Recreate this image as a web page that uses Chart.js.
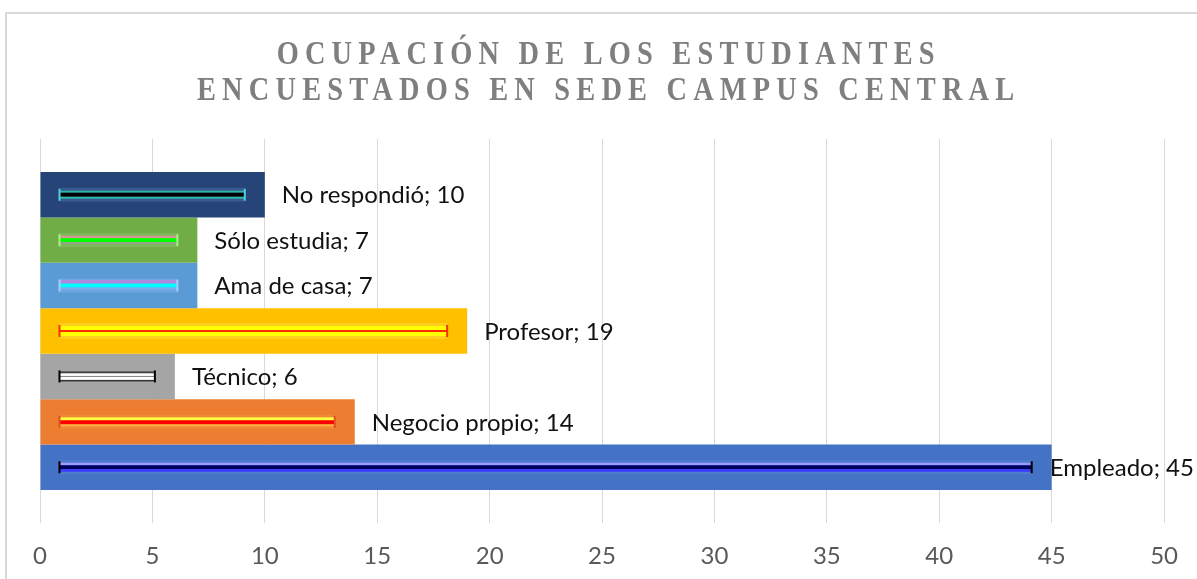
<!DOCTYPE html>
<html>
<head>
<meta charset="utf-8">
<script src="https://cdn.jsdelivr.net/npm/chart.js@4.4.1/dist/chart.umd.min.js"></script>
<style>
  body { margin: 0; background: #fff; overflow: hidden; }
  #frame { position: absolute; left: 5px; top: 12px; width: 1300px; height: 700px; border: 2px solid #d9d9d9; }
  #wrap { position: absolute; left: 0; top: 0; width: 1197px; height: 579px; }
  #titulo {
    position: absolute; left: 5px; width: 1200px; top: 35px; text-align: center;
    font-family: "Liberation Serif", serif; font-weight: bold; font-size: 33px; line-height: 36px;
    color: #7f7f7f; letter-spacing: 7.2px; padding-left: 7px; box-sizing: border-box;
    transform: scaleX(0.86); transform-origin: 605px 0;
  }
</style>
</head>
<body>
<div id="frame"></div>
<div id="wrap"><canvas id="myChart" width="1197" height="579"></canvas></div>
<div id="titulo">OCUPACIÓN DE LOS ESTUDIANTES<br>ENCUESTADOS EN SEDE CAMPUS CENTRAL</div>
<script>
const categorias = ['No respondió', 'Sólo estudia', 'Ama de casa', 'Profesor', 'Técnico', 'Negocio propio', 'Empleado'];
const valores = [10, 7, 7, 19, 6, 14, 45];
const ticksX = [0, 5, 10, 15, 20, 25, 30, 35, 40, 45, 50];

const colores = ['#264478', '#70ad47', '#5b9bd5', '#ffc000', '#a5a5a5', '#ed7d31', '#4472c4'];
// franjas decorativas de cada barra: [desde centro, alto, color]
const franjas = [
  [[-7, 14, 'rgba(90,130,190,0.35)'], [-4, 2, '#2fb8a8'], [-2, 4, '#000000'], [2, 2, '#2fb8a8']],
  [[-7, 14, 'rgba(150,200,120,0.4)'], [-4.5, 2.5, '#d09a90'], [-2, 4, '#00ff00'], [2, 2, '#9aa08a']],
  [[-7, 14, 'rgba(140,180,230,0.4)'], [-5.5, 3.5, '#b08ae0'], [-2, 4, '#00ffff'], [2, 2, '#7fb0f0']],
  [[-8, 16, 'rgba(255,220,60,0.5)'], [-5, 10, '#ffff00'], [-1, 2, '#ff2a00']],
  [[-5, 2, '#404040'], [-3, 6.5, '#ffffff'], [-0.5, 1, '#808080'], [3.5, 1.5, '#303030']],
  [[-7, 14, 'rgba(240,150,60,0.5)'], [-4.5, 3, '#ffff40'], [-1.5, 4, '#ff0000'], [2.5, 2, '#ffb040']],
  [[-7, 14, 'rgba(100,140,220,0.4)'], [-4.5, 2.5, '#9a9aff'], [-2, 4, '#000060'], [2, 2.5, '#3a3aff']]
];
const remates = ['#4fd0e0', '#a8f08a', '#a0d0ff', '#ff3000', '#000000', '#e05020', '#000000'];

const decoracion = {
  id: 'decoracion',
  afterDatasetsDraw(chart) {
    const ctx = chart.ctx;
    ctx.save();
    chart.data.datasets.forEach((ds, i) => {
      const bar = chart.getDatasetMeta(i).data[0];
      const p = bar.getProps(['x', 'y', 'base']);
      const x0 = p.base + 19, x1 = p.x - 20;
      franjas[i].forEach(f => {
        ctx.fillStyle = f[2];
        ctx.fillRect(x0, p.y + f[0], x1 - x0, f[1]);
      });
      ctx.fillStyle = remates[i];
      ctx.fillRect(x0 - 1, p.y - 6, 2, 12);
      ctx.fillRect(x1 - 1, p.y - 6, 2, 12);
    });
    // etiquetas
    ctx.font = '24px Lato';
    ctx.fillStyle = '#111';
    ctx.textBaseline = 'middle';
    chart.data.datasets.forEach((ds, i) => {
      const bar = chart.getDatasetMeta(i).data[0];
      const txt = ds.label + '; ' + ds.data[0];
      let x = bar.x + 17;
      if (x + ctx.measureText(txt).width > chart.width) x = bar.x - 2;
      ctx.fillText(txt, x, bar.y + 1);
    });
    ctx.restore();
  }
};

const ctx = document.getElementById('myChart');
const myChart = new Chart(ctx, {
  type: 'bar',
  data: {
    labels: [''],
    datasets: categorias.map((c, i) => ({
      label: c,
      data: [valores[i]],
      backgroundColor: colores[i],
      borderWidth: 0
    }))
  },
  options: {
    indexAxis: 'y',
    responsive: false,
    animation: false,
    categoryPercentage: 0.828,
    barPercentage: 1,
    layout: { padding: { left: 40, right: 30, top: 139, bottom: 0 } },
    plugins: { legend: { display: false }, tooltip: { enabled: false } },
    scales: {
      x: {
        min: ticksX[0],
        max: ticksX[ticksX.length - 1],
        afterBuildTicks: s => { s.ticks = ticksX.map(v => ({ value: v })); },
        afterFit: s => { s.height = 56; },
        grid: { color: '#d9d9d9', drawTicks: false },
        border: { display: false },
        ticks: { color: '#595959', padding: 19, font: { family: 'Lato', size: 24 } }
      },
      y: { display: false }
    }
  },
  plugins: [decoracion]
});
</script>
</body>
</html>
